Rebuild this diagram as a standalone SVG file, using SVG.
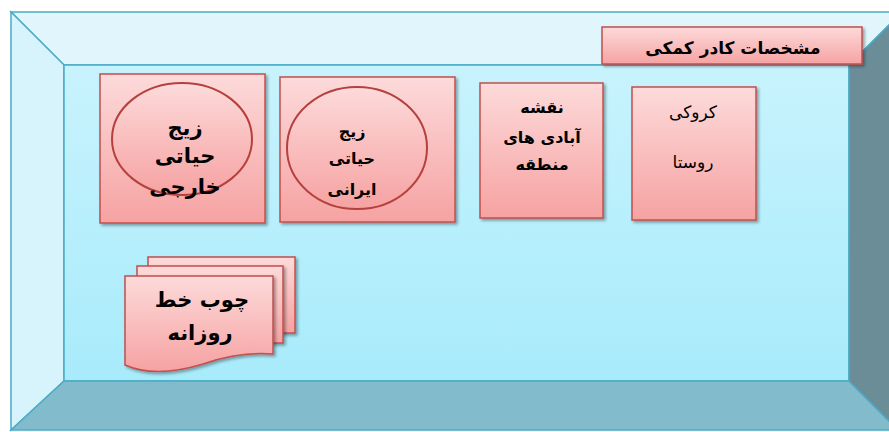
<svg xmlns="http://www.w3.org/2000/svg" width="889" height="432" viewBox="0 0 889 432">
<defs>
<linearGradient id="pink" x1="0" y1="0" x2="0" y2="1">
<stop offset="0" stop-color="#fddada"/>
<stop offset="1" stop-color="#f6a2a2"/>
</linearGradient>
<linearGradient id="back" x1="0" y1="0" x2="0" y2="1">
<stop offset="0" stop-color="#c8f3fd"/>
<stop offset="1" stop-color="#a8ebfb"/>
</linearGradient>
<filter id="sh" x="-10%" y="-10%" width="130%" height="130%">
<feDropShadow dx="2" dy="2" stdDeviation="1.5" flood-color="#000" flood-opacity="0.35"/>
</filter>
<style>
.sh{fill:url(#pink);stroke:#c0504d;stroke-width:1.5;filter:url(#sh)}
.el{fill:url(#pink);stroke:#b5403d;stroke-width:2}
.t{font-family:"DejaVu Sans",sans-serif;fill:#000;text-anchor:middle}
.edge{stroke:#4bacc6;stroke-width:1.5}
</style>
</defs>
<g id="room">
<polygon points="11,12 902,12 849,65 64,65" fill="#e1f6fc" class="edge"/>
<polygon points="11,12 64,65 64,381 11,430" fill="#d7f3fb" class="edge"/>
<polygon points="64,65 849,65 849,381 64,381" fill="url(#back)" class="edge"/>
<polygon points="11,430 64,381 849,381 898,430" fill="#82bbcb" class="edge"/>
<polygon points="849,65 902,12 902,432 898,430 849,381" fill="#6b8d97" class="edge"/>
</g>
<g id="label">
<rect x="602" y="27" width="260" height="37" class="sh"/>
<text x="733" y="54" class="t" font-size="17" font-weight="bold">مشخصات کادر کمکی</text>
</g>
<g id="node1">
<rect x="100" y="74" width="165" height="149" class="sh"/>
<ellipse cx="182" cy="139" rx="70" ry="56" class="el"/>
<text class="t" font-size="21" font-weight="bold"><tspan x="185" y="135">زیج</tspan><tspan x="185" y="163">حیاتی</tspan><tspan x="185" y="194">خارجی</tspan></text>
</g>
<g id="node2">
<rect x="280" y="77" width="175" height="145" class="sh"/>
<ellipse cx="357" cy="148" rx="70" ry="61" class="el"/>
<text class="t" font-size="16" font-weight="bold"><tspan x="352" y="137">زیج</tspan><tspan x="352" y="164">حیاتی</tspan><tspan x="352" y="195">ایرانی</tspan></text>
</g>
<g id="node3">
<rect x="480" y="83" width="123" height="135" class="sh"/>
<text class="t" font-size="16" font-weight="bold"><tspan x="542" y="113">نقشه</tspan><tspan x="542" y="143">آبادی های</tspan><tspan x="542" y="170">منطقه</tspan></text>
</g>
<g id="node4">
<rect x="632" y="87" width="124" height="133" class="sh"/>
<text class="t" font-size="17"><tspan x="693" y="118">کروکی</tspan><tspan x="693" y="168">روستا</tspan></text>
</g>
<g id="node5">
<rect x="148" y="257" width="147" height="76" class="sh"/>
<rect x="137" y="266" width="146" height="77" class="sh"/>
<path d="M125,276 H273 V354 C248,352 226,356 203,364 C180,371 150,376 125,365 Z" class="sh"/>
<text class="t" font-size="21" font-weight="bold"><tspan x="202" y="307">چوب خط</tspan><tspan x="200" y="340">روزانه</tspan></text>
</g>
<g id="connectors"/>
</svg>
